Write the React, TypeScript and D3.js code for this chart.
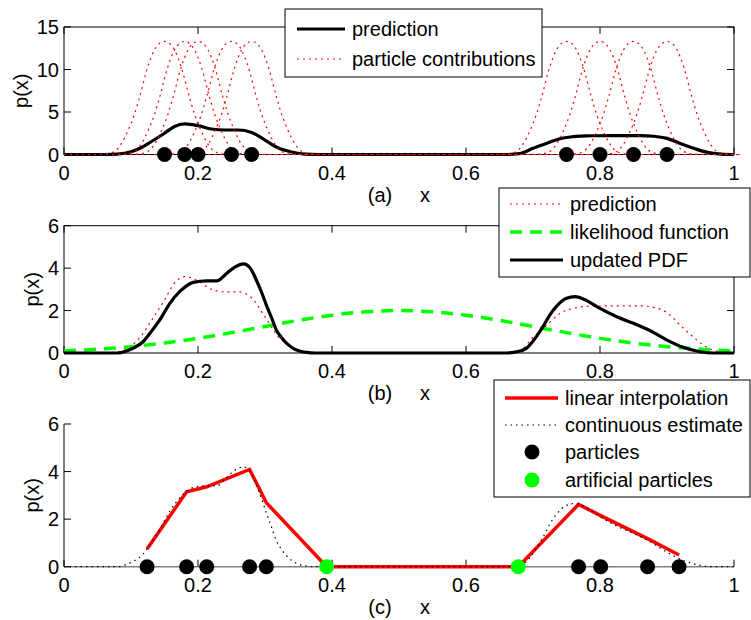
import React from 'react';
import * as d3 from 'd3';

const xTicks = [0, 0.2, 0.4, 0.6, 0.8, 1];
const xTickLabels = ['0', '0.2', '0.4', '0.6', '0.8', '1'];
const yTicksA = [0, 5, 10, 15];
const yTicksBC = [0, 2, 4, 6];

// (a) particles and the shape of one particle's contribution (offset from particle)
const particlesA = [0.15, 0.18, 0.2, 0.25, 0.28, 0.75, 0.8, 0.85, 0.9];
const kernelDx = [-0.11, -0.09, -0.075, -0.065, -0.054, -0.045, -0.037, -0.025, -0.015, -0.007, 0,
  0.007, 0.015, 0.025, 0.037, 0.045, 0.054, 0.065, 0.075, 0.09, 0.11];
const kernelP = [0, 0.05, 0.35, 1.2, 2.9, 4.7, 6.8, 10.3, 12.3, 13.1, 13.3,
  13.1, 12.3, 10.3, 6.8, 4.7, 2.9, 1.2, 0.35, 0.05, 0];

// prediction (a, b)
const predX = [0, 0.06, 0.08, 0.1, 0.115, 0.13, 0.15, 0.165, 0.18, 0.2, 0.22, 0.24, 0.26, 0.28, 0.3,
  0.32, 0.34, 0.36, 0.38, 0.66, 0.68, 0.7, 0.72, 0.74, 0.76, 0.78, 0.82, 0.86, 0.88, 0.9, 0.92, 0.94,
  0.96, 0.98, 1];
const predY = [0, 0, 0.05, 0.33, 0.8, 1.5, 2.5, 3.3, 3.6, 3.4, 3.0, 2.88, 2.88, 2.6, 1.7,
  0.76, 0.3, 0.05, 0, 0, 0.1, 0.73, 1.3, 1.86, 2.1, 2.2, 2.22, 2.22, 2.15, 1.9, 1.3, 0.73,
  0.26, 0.05, 0];

// likelihood (b)
const likX = [0, 0.05, 0.1, 0.15, 0.2, 0.25, 0.3, 0.35, 0.4, 0.45, 0.5, 0.55, 0.6, 0.65, 0.7, 0.75,
  0.8, 0.85, 0.9, 0.95, 1];
const likY = [0.1, 0.18, 0.3, 0.47, 0.69, 0.96, 1.25, 1.54, 1.78, 1.94, 2.0, 1.94, 1.78, 1.54, 1.25,
  0.96, 0.69, 0.47, 0.3, 0.18, 0.1];

// updated PDF (b) / continuous estimate (c)
const updX = [0, 0.08, 0.0935, 0.105, 0.118, 0.13, 0.143, 0.158, 0.173, 0.193, 0.213, 0.228, 0.243,
  0.255, 0.268, 0.278, 0.287, 0.295, 0.302, 0.31, 0.317, 0.325, 0.332, 0.34, 0.347, 0.362, 0.375,
  0.66, 0.675, 0.69, 0.705, 0.715, 0.725, 0.735, 0.75, 0.763, 0.78, 0.8, 0.825, 0.85, 0.875, 0.9,
  0.924, 0.949, 0.97, 1];
const updY = [0, 0, 0.1, 0.25, 0.53, 1.0, 1.56, 2.34, 2.9, 3.33, 3.4, 3.4, 3.76,
  4.05, 4.2, 4.0, 3.44, 2.85, 2.26, 1.65, 1.08, 0.72, 0.46, 0.26, 0.14, 0.03, 0,
  0, 0.05, 0.22, 0.77, 1.24, 1.79, 2.2, 2.58, 2.66, 2.47, 2.1, 1.71, 1.4, 1.05, 0.61,
  0.27, 0.06, 0, 0];

// (c) linear interpolation through particles
const linX = [0.124, 0.183, 0.213, 0.277, 0.302, 0.392, 0.678, 0.768, 0.801, 0.871, 0.918];
const linY = [0.74, 3.15, 3.36, 4.09, 2.69, 0, 0, 2.62, 2.15, 1.18, 0.49];
const particlesC = [0.124, 0.183, 0.213, 0.277, 0.302, 0.768, 0.801, 0.871, 0.918];
const artificialC = [0.392, 0.678];

const FONT = '"Liberation Sans", Arial, Helvetica, sans-serif';
const RED = '#ff0000';
const GREEN = '#00ff00';

const x = d3.scaleLinear().domain([0, 1]).range([64, 734]);

function pathOf(xs: number[], ys: number[], y: d3.ScaleLinear<number, number>, curve: d3.CurveFactory) {
  return d3.line<number>()
    .x((_, i) => x(xs[i]))
    .y(d => y(d))
    .curve(curve)(ys) || '';
}

function Axes({ y, ticks, box, label, tag }: any) {
  const [y0, y1] = y.range();
  const tl = 7;
  return (
    <g>
      {box ? (
        <rect x={x(0)} y={y1} width={x(1) - x(0)} height={y0 - y1} fill="none" stroke="#000" strokeWidth={1} />
      ) : (
        <g>
          <line x1={x(0)} x2={x(0)} y1={y0} y2={y1} stroke="#000" strokeWidth={1} />
          <line x1={x(0)} x2={x(1)} y1={y0} y2={y0} stroke="#808080" strokeWidth={1.5} />
        </g>
      )}
      {xTicks.map(t => (
        <g key={'x' + t}>
          <line x1={x(t)} x2={x(t)} y1={y0} y2={y0 - tl} stroke="#000" />
          {box && <line x1={x(t)} x2={x(t)} y1={y1} y2={y1 + tl} stroke="#000" />}
        </g>
      ))}
      {ticks.map((t: number) => (
        <g key={'y' + t}>
          <line x1={x(0)} x2={x(0) + tl} y1={y(t)} y2={y(t)} stroke="#000" />
          {box && <line x1={x(1)} x2={x(1) - tl} y1={y(t)} y2={y(t)} stroke="#000" />}
          <text x={x(0) - 5} y={y(t)} dy="0.36em" textAnchor="end">{t}</text>
        </g>
      ))}
      {xTicks.map((t, i) => (
        <text key={'xl' + t} x={x(t)} y={y0 + 18} dy="0.36em" textAnchor="middle">{xTickLabels[i]}</text>
      ))}
      <text x={380} y={y0 + 40} dy="0.36em" textAnchor="middle">{tag}</text>
      <text x={425} y={y0 + 40} dy="0.36em" textAnchor="middle">x</text>
      <text transform={`translate(${label},${(y0 + y1) / 2}) rotate(-90)`} dy="0.36em" textAnchor="middle">p(x)</text>
    </g>
  );
}

export default function App() {
  const yA = d3.scaleLinear().domain([0, 15]).range([154.5, 27]);
  const yB = d3.scaleLinear().domain([0, 6]).range([353, 225.7]);
  const yC = d3.scaleLinear().domain([0, 6]).range([566.7, 424]);
  const smooth = d3.curveMonotoneX;

  return (
    <svg width={751} height={620} style={{ position: 'absolute', left: 0, top: 0, background: '#fff' }}
      fontFamily={FONT} fontSize={20}>
      {/* panel (a) */}
      <Axes y={yA} ticks={yTicksA} box label={21} tag="(a)" />
      <path d={pathOf(predX, predY, yA, smooth)} fill="none" stroke="#000" strokeWidth={3.2} />
      {particlesA.map(p => {
        const xs = [0, ...kernelDx.map(d => p + d), 1];
        const ys = [0, ...kernelP, 0];
        return <path key={p} d={pathOf(xs, ys, yA, smooth)} fill="none" stroke={RED} strokeWidth={1.2} strokeDasharray="2 4" />;
      })}
      {particlesA.map(p => <circle key={p} cx={x(p)} cy={yA(0)} r={7.5} fill="#000" />)}
      <rect x={285} y={9} width={257} height={68} fill="#fff" stroke="#000" />
      <line x1={297} x2={345} y1={29} y2={29} stroke="#000" strokeWidth={3.2} />
      <text x={352} y={29} dy="0.36em">prediction</text>
      <line x1={297} x2={345} y1={59} y2={59} stroke={RED} strokeWidth={1.2} strokeDasharray="2 4" />
      <text x={352} y={59} dy="0.36em">particle contributions</text>

      {/* panel (b) */}
      <Axes y={yB} ticks={yTicksBC} box label={32} tag="(b)" />
      <path d={pathOf(predX, predY, yB, smooth)} fill="none" stroke={RED} strokeWidth={1.2} strokeDasharray="2 4" />
      <path d={pathOf(likX, likY, yB, d3.curveCatmullRom)} fill="none" stroke={GREEN} strokeWidth={3.5} strokeDasharray="12 8" />
      <path d={pathOf(updX, updY, yB, smooth)} fill="none" stroke="#000" strokeWidth={3.2} />
      <rect x={499} y={188} width={251} height={89} fill="#fff" stroke="#000" />
      <line x1={510} x2={563} y1={204} y2={204} stroke={RED} strokeWidth={1.2} strokeDasharray="2 4" />
      <text x={570} y={204} dy="0.36em">prediction</text>
      <line x1={510} x2={563} y1={232} y2={232} stroke={GREEN} strokeWidth={3.5} strokeDasharray="12 8" />
      <text x={570} y={232} dy="0.36em">likelihood function</text>
      <line x1={510} x2={563} y1={260} y2={260} stroke="#000" strokeWidth={3.2} />
      <text x={570} y={260} dy="0.36em">updated PDF</text>

      {/* panel (c) */}
      <Axes y={yC} ticks={yTicksBC} box={false} label={32} tag="(c)" />
      <path d={pathOf(linX, linY, yC, d3.curveLinear)} fill="none" stroke={RED} strokeWidth={3.5} />
      <path d={pathOf(updX, updY, yC, smooth)} fill="none" stroke="#000" strokeWidth={1.2} strokeDasharray="1.5 4" />
      {particlesC.map(p => <circle key={p} cx={x(p)} cy={yC(0)} r={7.5} fill="#000" />)}
      {artificialC.map(p => <circle key={p} cx={x(p)} cy={yC(0)} r={7.5} fill={GREEN} />)}
      <rect x={494} y={380} width={256} height={117} fill="#fff" stroke="#000" />
      <line x1={505} x2={558} y1={398} y2={398} stroke={RED} strokeWidth={3.5} />
      <text x={565} y={398} dy="0.36em">linear interpolation</text>
      <line x1={505} x2={558} y1={425} y2={425} stroke="#000" strokeWidth={1.2} strokeDasharray="1.5 4" />
      <text x={565} y={425} dy="0.36em">continuous estimate</text>
      <circle cx={532} cy={452} r={7.5} fill="#000" />
      <text x={565} y={452} dy="0.36em">particles</text>
      <circle cx={532} cy={480} r={7.5} fill={GREEN} />
      <text x={565} y={480} dy="0.36em">artificial particles</text>
    </svg>
  );
}
